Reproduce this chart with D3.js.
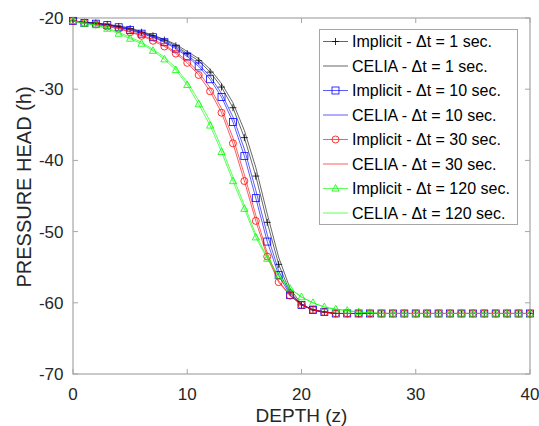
<!DOCTYPE html>
<html>
<head>
<meta charset="utf-8">
<script src="https://cdn.jsdelivr.net/npm/d3@7"></script>
<style>
  body { margin: 0; background: #fff; }
  svg { display: block; font-family: "Liberation Sans", Arial, Helvetica, sans-serif; }
</style>
</head>
<body>
<svg class="chart"></svg>
<script>
const width = 539, height = 426;

// depth points 0..40
const depth = d3.range(0, 41);

// pressure head values
const implicit1 = [-20.4,-20.6,-20.7,-20.9,-21.2,-21.5,-22.0,-22.5,-23.1,-23.9,-25.0,-26.0,-27.6,-29.7,-32.6,-36.8,-42.2,-48.7,-54.6,-58.5,-60.3,-61.0,-61.3,-61.5,-61.5,-61.5,-61.5,-61.5,-61.5,-61.5,-61.5,-61.5,-61.5,-61.5,-61.5,-61.5,-61.5,-61.5,-61.5,-61.5,-61.5];
const celia1    = [-20.4,-20.6,-20.7,-20.9,-21.1,-21.4,-21.9,-22.4,-23.0,-23.7,-24.7,-25.7,-27.2,-29.2,-31.9,-35.8,-41.0,-47.5,-53.6,-58.0,-60.2,-61.0,-61.3,-61.5,-61.5,-61.5,-61.5,-61.5,-61.5,-61.5,-61.5,-61.5,-61.5,-61.5,-61.5,-61.5,-61.5,-61.5,-61.5,-61.5,-61.5];
const implicit10 = [-20.4,-20.7,-20.8,-21.0,-21.3,-21.7,-22.2,-22.7,-23.4,-24.3,-25.4,-26.8,-28.6,-31.1,-34.6,-39.4,-45.3,-51.4,-56.1,-58.9,-60.3,-61.0,-61.3,-61.5,-61.5,-61.5,-61.5,-61.5,-61.5,-61.5,-61.5,-61.5,-61.5,-61.5,-61.5,-61.5,-61.5,-61.5,-61.5,-61.5,-61.5];
const celia10    = [-20.4,-20.6,-20.8,-21.0,-21.3,-21.6,-22.1,-22.6,-23.3,-24.1,-25.2,-26.5,-28.2,-30.6,-33.9,-38.4,-44.2,-50.4,-55.5,-58.7,-60.2,-61.0,-61.3,-61.5,-61.5,-61.5,-61.5,-61.5,-61.5,-61.5,-61.5,-61.5,-61.5,-61.5,-61.5,-61.5,-61.5,-61.5,-61.5,-61.5,-61.5];
const implicit30 = [-20.4,-20.7,-20.9,-21.2,-21.5,-22.0,-22.5,-23.2,-24.0,-25.0,-26.3,-28.0,-30.3,-33.3,-37.6,-42.9,-48.5,-53.5,-57.1,-59.0,-60.3,-61.0,-61.3,-61.5,-61.5,-61.5,-61.5,-61.5,-61.5,-61.5,-61.5,-61.5,-61.5,-61.5,-61.5,-61.5,-61.5,-61.5,-61.5,-61.5,-61.5];
const celia30    = [-20.4,-20.7,-20.9,-21.1,-21.4,-21.9,-22.4,-23.0,-23.8,-24.8,-26.0,-27.6,-29.8,-32.7,-36.8,-42.0,-47.7,-53.0,-56.9,-59.0,-60.3,-61.0,-61.3,-61.5,-61.5,-61.5,-61.5,-61.5,-61.5,-61.5,-61.5,-61.5,-61.5,-61.5,-61.5,-61.5,-61.5,-61.5,-61.5,-61.5,-61.5];
const implicit120 = [-20.4,-20.8,-21.0,-21.5,-22.2,-22.9,-23.6,-24.6,-25.8,-27.3,-29.4,-32.1,-35.1,-38.8,-42.9,-46.8,-50.8,-53.8,-56.3,-58.0,-59.2,-60.0,-60.6,-60.9,-61.1,-61.3,-61.4,-61.5,-61.5,-61.5,-61.5,-61.5,-61.5,-61.5,-61.5,-61.5,-61.5,-61.5,-61.5,-61.5,-61.5];
const celia120    = [-20.4,-20.7,-21.0,-21.4,-22.0,-22.7,-23.4,-24.4,-25.5,-27.0,-29.0,-31.6,-34.5,-38.2,-42.3,-46.3,-50.4,-53.6,-56.2,-58.0,-59.2,-60.0,-60.6,-60.9,-61.1,-61.3,-61.4,-61.5,-61.5,-61.5,-61.5,-61.5,-61.5,-61.5,-61.5,-61.5,-61.5,-61.5,-61.5,-61.5,-61.5];

const labels = ["Implicit - Δt = 1 sec.", "CELIA - Δt = 1 sec.",
                "Implicit - Δt = 10 sec.", "CELIA - Δt = 10 sec.",
                "Implicit - Δt = 30 sec.", "CELIA - Δt = 30 sec.",
                "Implicit - Δt = 120 sec.", "CELIA - Δt = 120 sec."];
const colors = ["#000", "#000", "#0000ff", "#0000ff", "#ff0000", "#ff0000", "#00ff00", "#00ff00"];
const markers = ["plus", null, "square", null, "circle", null, "triangle", null];
const seriesValues = [implicit1, celia1, implicit10, celia10, implicit30, celia30, implicit120, celia120];

const xTicks = [0, 10, 20, 30, 40];
const yTicks = [-70, -60, -50, -40, -30, -20];

const series = seriesValues.map((vals, i) => ({
  label: labels[i], color: colors[i], marker: markers[i],
  points: vals.map((v, j) => ({ z: depth[j], h: v }))
}));

const margin = { left: 73, right: 9, top: 18, bottom: 52 };

const x = d3.scaleLinear().domain([0, 40]).range([margin.left, width - margin.right]);
const y = d3.scaleLinear().domain([-70, -20]).range([height - margin.bottom, margin.top]);

const svg = d3.select(".chart")
  .attr("width", width)
  .attr("height", height);

const axisColor = "#a6a6a6";
const textColor = "#262626";

// plot box
svg.append("rect")
  .attr("x", x(0)).attr("y", y(-20))
  .attr("width", x(40) - x(0)).attr("height", y(-70) - y(-20))
  .attr("fill", "none").attr("stroke", axisColor).attr("stroke-width", 1.2);

const tickLen = 5;
const ticks = svg.append("g").attr("stroke", axisColor).attr("stroke-width", 1);
xTicks.forEach(t => {
  ticks.append("line").attr("x1", x(t)).attr("x2", x(t)).attr("y1", y(-70)).attr("y2", y(-70) - tickLen);
  ticks.append("line").attr("x1", x(t)).attr("x2", x(t)).attr("y1", y(-20)).attr("y2", y(-20) + tickLen);
});
yTicks.forEach(t => {
  ticks.append("line").attr("x1", x(0)).attr("x2", x(0) + tickLen).attr("y1", y(t)).attr("y2", y(t));
  ticks.append("line").attr("x1", x(40)).attr("x2", x(40) - tickLen).attr("y1", y(t)).attr("y2", y(t));
});

svg.append("g").selectAll("text")
  .data(xTicks).enter().append("text")
  .attr("x", d => x(d)).attr("y", y(-70) + 25.5)
  .attr("text-anchor", "middle")
  .attr("font-size", 17).attr("fill", textColor)
  .text(d => d);

svg.append("g").selectAll("text")
  .data(yTicks).enter().append("text")
  .attr("x", x(0) - 9.5).attr("y", d => y(d)).attr("dy", "0.35em")
  .attr("text-anchor", "end")
  .attr("font-size", 17).attr("fill", textColor)
  .text(d => d);

svg.append("text")
  .attr("x", (x(0) + x(40)) / 2).attr("y", 421.5)
  .attr("text-anchor", "middle")
  .attr("font-size", 19).attr("fill", textColor)
  .text("DEPTH (z)");

svg.append("text")
  .attr("transform", `translate(31,187) rotate(-90)`)
  .attr("text-anchor", "middle")
  .attr("font-size", 20).attr("fill", textColor)
  .text("PRESSURE HEAD (h)");

const line = d3.line().x(d => x(d.z)).y(d => y(d.h));

// marker shapes
const drawMarker = (sel, type, color) => {
  if (type === "plus") {
    sel.append("path").attr("d", "M-3.5,0H3.5M0,-3.5V3.5")
      .attr("stroke", color).attr("stroke-width", 0.8).attr("fill", "none");
  } else if (type === "square") {
    sel.append("rect").attr("x", -3.5).attr("y", -3.5).attr("width", 7).attr("height", 7)
      .attr("stroke", color).attr("stroke-width", 0.8).attr("fill", "none");
  } else if (type === "circle") {
    sel.append("circle").attr("r", 3.5)
      .attr("stroke", color).attr("stroke-width", 0.8).attr("fill", "none");
  } else if (type === "triangle") {
    sel.append("path").attr("d", "M0,-4L3.6,2.6L-3.6,2.6Z")
      .attr("stroke", color).attr("stroke-width", 0.8).attr("fill", "none");
  }
};

const plot = svg.append("g");
series.forEach(s => {
  const g = plot.append("g");
  g.append("path")
    .datum(s.points)
    .attr("d", line)
    .attr("fill", "none")
    .attr("stroke", s.color)
    .attr("stroke-opacity", s.color === "#000" ? 0.75 : 0.8)
    .attr("stroke-width", 0.8);
  if (s.marker) {
    g.selectAll("g.m")
      .data(s.points).enter().append("g")
      .attr("class", "m")
      .attr("transform", d => `translate(${x(d.z)},${y(d.h)})`)
      .each(function() { drawMarker(d3.select(this), s.marker, s.color); });
  }
});

// legend
const lg = svg.append("g");
lg.append("rect")
  .attr("x", 319.5).attr("y", 29.5).attr("width", 198).attr("height", 195)
  .attr("fill", "#fff").attr("stroke", axisColor).attr("stroke-width", 1);

series.forEach((s, i) => {
  const cy = 41.5 + i * 24.5;
  const row = lg.append("g");
  row.append("line")
    .attr("x1", 323).attr("x2", 348).attr("y1", cy).attr("y2", cy)
    .attr("stroke", s.color).attr("stroke-opacity", s.color === "#000" ? 0.75 : 0.8)
    .attr("stroke-width", 0.8);
  if (s.marker) {
    const m = row.append("g").attr("transform", `translate(335.5,${cy})`);
    drawMarker(m, s.marker, s.color);
  }
  row.append("text")
    .attr("x", 352).attr("y", cy).attr("dy", "0.35em")
    .attr("font-size", 16).attr("fill", "#000")
    .text(s.label);
});
</script>
</body>
</html>
